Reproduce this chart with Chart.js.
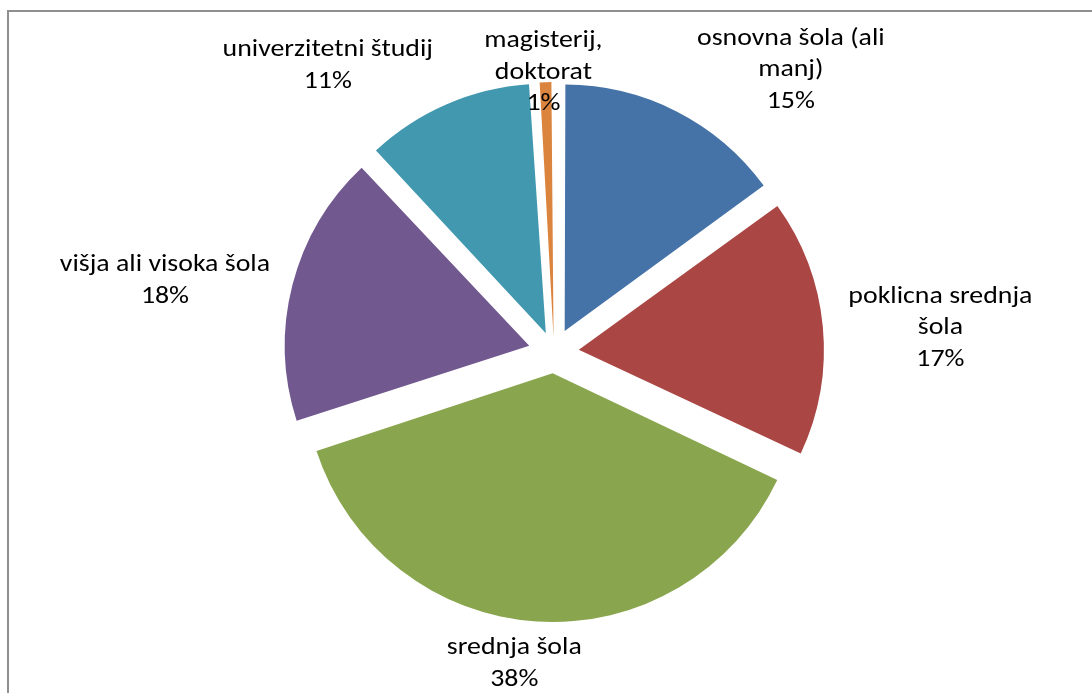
<!DOCTYPE html>
<html>
<head>
<meta charset="utf-8">
<script src="https://cdn.jsdelivr.net/npm/chart.js@4/dist/chart.umd.min.js"></script>
<style>
  body { margin: 0; background: #fff; }
  #wrap { position: relative; width: 1092px; height: 693px; overflow: hidden; }
  #frame {
    position: absolute; left: 7px; top: 10px; width: 1200px; height: 800px;
    border-left: 2px solid #8f8f8f; border-top: 2px solid #8f8f8f;
  }
  canvas { position: absolute; left: 0; top: 0; }
</style>
</head>
<body>
<div id="wrap">
  <div id="frame"></div>
  <canvas id="chart" width="1092" height="693"></canvas>
</div>
<script>
// Izobrazba - deleži (%)
const categories = [
  ['osnovna šola (ali', 'manj)'],
  ['poklicna srednja', 'šola'],
  ['srednja šola'],
  ['višja ali visoka šola'],
  ['univerzitetni študij'],
  ['magisterij,', 'doktorat']
];
const shares = [15, 17, 38, 18, 11, 1];
const sliceColors = ['#4572A7', '#AA4643', '#89A54E', '#71588F', '#4198AF', '#DB843D'];

// dodatni zamik nalepk (x, y) glede na privzeto postavitev
const labelShift = [[68, 8], [18, 7], [-18, 3], [-18, 6], [-74, -2], [0, 46]];

const explode = 28;      // premik rezin v px
const pieRadius = 242;
const labelFont = '24px Carlito, "Open Sans", sans-serif';
const textStretch = 1.16;
const lineHeight = 31.5;
const total = shares.reduce((a, b) => a + b, 0);

// Chart.js premakne rezino za offset/4 * (2 - sin(kot)), zato obrnemo, da je premik enak za vse
function sliceOffset(ctx) {
  const circ = shares[ctx.dataIndex] / total * Math.PI * 2;
  const fix = 1 - Math.sin(Math.min(Math.PI, circ));
  return explode * 4 / (1 + fix);
}

// nalepke zunaj rezin: ime + odstotek
const outsideLabels = {
  id: 'outsideLabels',
  afterDatasetsDraw(chart) {
    const ctx = chart.ctx;
    const meta = chart.getDatasetMeta(0);
    ctx.save();
    ctx.font = labelFont;
    ctx.fillStyle = '#000';
    ctx.textAlign = 'center';
    ctx.textBaseline = 'middle';
    meta.data.forEach((arc, i) => {
      const p = arc.getProps(['x', 'y', 'startAngle', 'endAngle', 'outerRadius'], true);
      const mid = (p.startAngle + p.endAngle) / 2;
      const lines = categories[i].concat([Math.round(shares[i] / total * 100) + '%']);
      const w = Math.max(...lines.map(l => ctx.measureText(l).width)) * textStretch;
      const h = lines.length * lineHeight;
      const r = p.outerRadius + explode + 8;
      const ax = p.x + Math.cos(mid) * r;
      const ay = p.y + Math.sin(mid) * r;
      const cx = ax + Math.cos(mid) * w / 2 + labelShift[i][0];
      const cy = ay + Math.sin(mid) * h / 2 + labelShift[i][1];
      lines.forEach((l, k) => {
        ctx.save();
        ctx.translate(cx, cy - h / 2 + lineHeight * (k + 0.5));
        ctx.scale(textStretch, 1);
        ctx.fillText(l, 0, 0);
        ctx.restore();
      });
    });
    ctx.restore();
  }
};

new Chart(document.getElementById('chart'), {
  type: 'pie',
  data: {
    labels: categories,
    datasets: [{
      data: shares,
      backgroundColor: sliceColors,
      borderWidth: 0,
      offset: sliceOffset,
      radius: pieRadius
    }]
  },
  options: {
    responsive: false,
    devicePixelRatio: 1,
    animation: false,
    layout: { padding: { top: 93, bottom: 82, left: 16, right: 0 } },
    plugins: {
      legend: { display: false },
      tooltip: { enabled: false }
    }
  },
  plugins: [outsideLabels]
});
</script>
</body>
</html>
